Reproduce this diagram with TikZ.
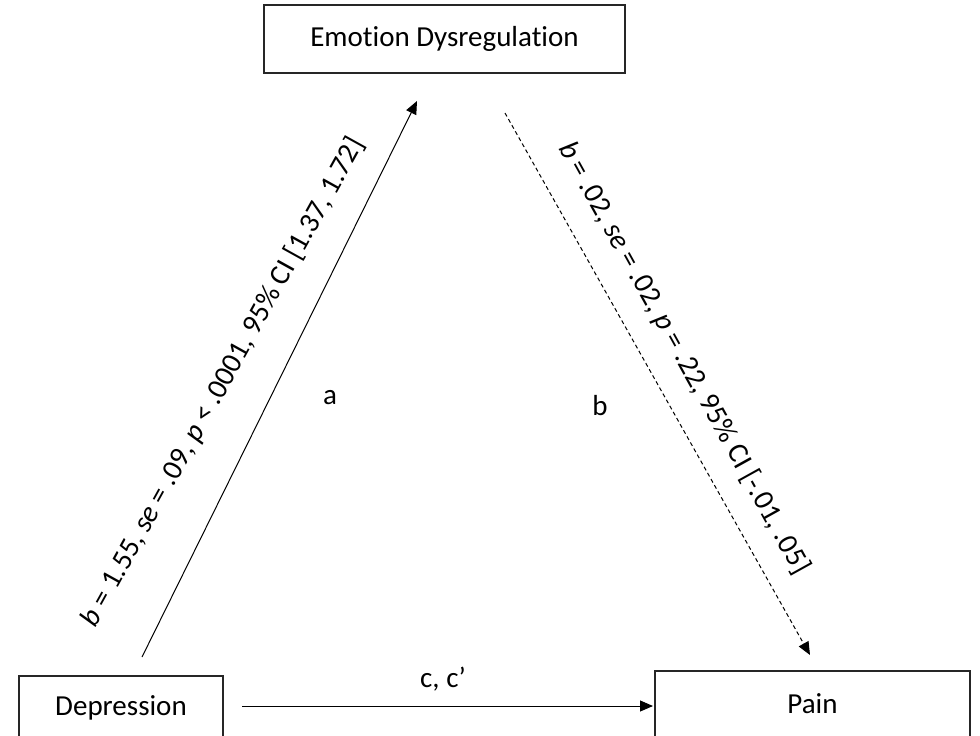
\documentclass[tikz,border=0pt]{standalone}
\usepackage{fontspec}
\setmainfont{Carlito}[Ligatures=NoCommon]
\usetikzlibrary{arrows.meta}
\begin{document}
\begin{tikzpicture}[x=0.5pt,y=-0.5pt,
  box/.style={draw=black!85,line width=0.6pt,inner sep=0pt,font=\fontsize{14.5}{17}\selectfont},
  conn/.style={line width=0.5pt,-{Triangle[length=6.5pt,width=5.5pt]}},
  lbl/.style={font=\fontsize{14.5}{17}\selectfont,inner sep=0pt}]
\useasboundingbox (0,0) rectangle (980,735);
\node[box,minimum width=180.5pt,minimum height=34pt] (emo) at (444.5,39) {Emotion Dysregulation};
\node[box,minimum width=102pt,minimum height=32pt] (dep) at (121,708) {Depression};
\node[box,minimum width=157.5pt,minimum height=33pt] (pain) at (812.5,704) {Pain};
\coordinate (a0) at (142,657);
\coordinate (a1) at (417,101);
\coordinate (b0) at (505,113);
\coordinate (b1) at (810,655);
\coordinate (c0) at (242,706);
\coordinate (c1) at (653,706);
\draw[conn] (a0) -- (a1);
\draw[conn,dash pattern=on 2pt off 1.5pt] (b0) -- (b1);
\draw[conn] (c0) -- (c1);
\node[lbl,rotate=61] (la) at (223,382) {\textit{b} = 1.55, \textit{se} = .09, \textit{p} < .0001, 95\% CI [1.37, 1.72]};
\node[lbl,rotate=-61] (lb) at (684,358) {\textit{b} = .02, \textit{se} = .02, \textit{p} = .22, 95\% CI [-.01, .05]};
\node[lbl] (ta) at (330,398) {a};
\node[lbl] (tb) at (600,406) {b};
\node[lbl] (tc) at (443,679) {c, c’};
\end{tikzpicture}
\end{document}
